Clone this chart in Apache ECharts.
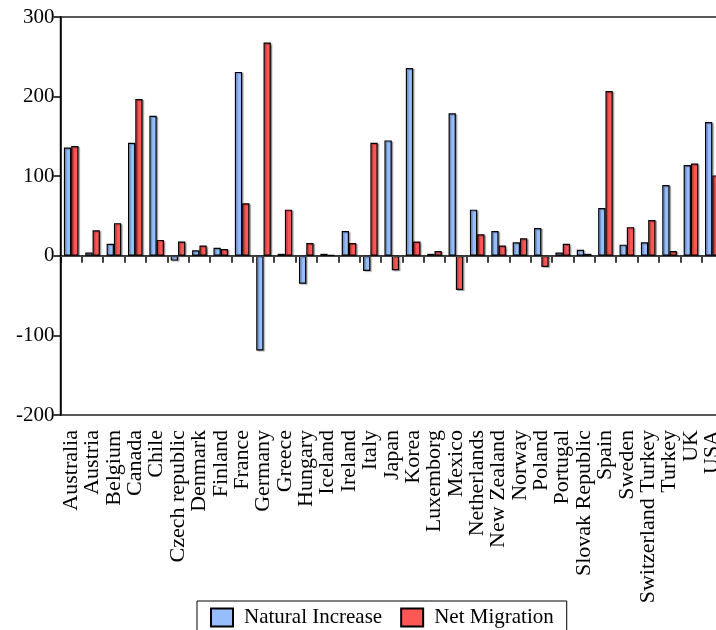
<!DOCTYPE html>
<html>
<head>
<meta charset="utf-8">
<script src="https://cdn.jsdelivr.net/npm/echarts@6/dist/echarts.min.js"></script>
<style>
  html, body { margin: 0; padding: 0; background: #fff; overflow: hidden; }
  #main { width: 732px; height: 630px; }
</style>
</head>
<body>
<div id="main"></div>
<script>
// categories and values
var countries = ['Australia', 'Austria', 'Belgium', 'Canada', 'Chile', 'Czech republic', 'Denmark', 'Finland', 'France', 'Germany',
  'Greece', 'Hungary', 'Iceland', 'Ireland', 'Italy', 'Japan', 'Korea', 'Luxemborg', 'Mexico', 'Netherlands',
  'New Zealand', 'Norway', 'Poland', 'Portugal', 'Slovak Republic', 'Spain', 'Sweden', 'Switzerland Turkey', 'Turkey', 'UK', 'USA']
var naturalIncrease = [136, 4, 15, 142, 176, -6, 7, 10, 231, -119,
  2.5, -35, 2.5, 31, -19, 145, 236, 2.5, 179, 58,
  31, 17, 35, 4, 7.5, 60, 14, 17, 89, 114, 168]
var netMigration = [138, 32, 41, 197, 20, 18, 13, 8.5, 66, 268,
  58, 16, 1.3, 16, 142, -18, 18, 6, -43, 27,
  13, 22, -14, 15, 2.5, 207, 36, 45, 6, 116, 101]
var yTicks = { min: -200, max: 300, step: 100 }

var font = 'Liberation Serif'
var chart = echarts.init(document.getElementById('main'))
chart.setOption({
  animation: false,
  grid: {
    left: 60.5,
    right: 9,   // plot runs past the 716px window, USA gets clipped like the original
    top: 17,
    bottom: 215,
    show: true,
    borderColor: '#222',
    borderWidth: 1.5
  },
  legend: {
    left: 197,
    top: 601,
    padding: [6, 13, 6, 13],
    itemWidth: 22,
    itemHeight: 18,
    itemGap: 18,
    icon: 'rect',
    borderColor: '#000',
    borderWidth: 1,
    textStyle: {
      fontFamily: font,
      fontSize: 21,
      color: '#000',
      padding: [0, 0, 0, 6]
    }
  },
  xAxis: {
    type: 'category',
    data: countries,
    axisLine: { lineStyle: { color: '#000', width: 1.5 } },
    axisTick: { show: true, interval: 0, length: 7, lineStyle: { color: '#000', width: 1.5 } },
    axisLabel: {
      interval: 0,
      rotate: 90,
      margin: 15,
      fontFamily: font,
      fontSize: 22,
      color: '#000'
    }
  },
  yAxis: {
    type: 'value',
    min: yTicks.min,
    max: yTicks.max,
    interval: yTicks.step,
    splitLine: { show: false },
    axisLine: { show: true, lineStyle: { color: '#000', width: 1.5 } },
    axisTick: { show: true, length: 7, lineStyle: { color: '#000', width: 1.5 } },
    axisLabel: {
      margin: 6,
      fontFamily: font,
      fontSize: 21,
      color: '#000'
    }
  },
  series: [{
    name: 'Natural Increase',
    type: 'bar',
    data: naturalIncrease,
    barWidth: 7.3,
    barGap: '0%',
    itemStyle: {
      color: '#96beff',
      borderColor: '#000',
      borderWidth: 1.2,
      shadowColor: 'rgba(0,0,0,0.3)',
      shadowBlur: 1,
      shadowOffsetX: 1.5,
      shadowOffsetY: 1
    },
    markLine: {
      silent: true,
      symbol: 'none',
      label: { show: false },
      lineStyle: { color: '#444', width: 1, type: 'solid' },
      data: [{ yAxis: 0 }]
    }
  }, {
    name: 'Net Migration',
    type: 'bar',
    data: netMigration,
    barWidth: 7.3,
    barGap: '0%',
    itemStyle: {
      color: '#ff5656',
      borderColor: '#000',
      borderWidth: 1.2,
      shadowColor: 'rgba(0,0,0,0.3)',
      shadowBlur: 1,
      shadowOffsetX: 1.5,
      shadowOffsetY: 1
    }
  }]
})
</script>
</body>
</html>
